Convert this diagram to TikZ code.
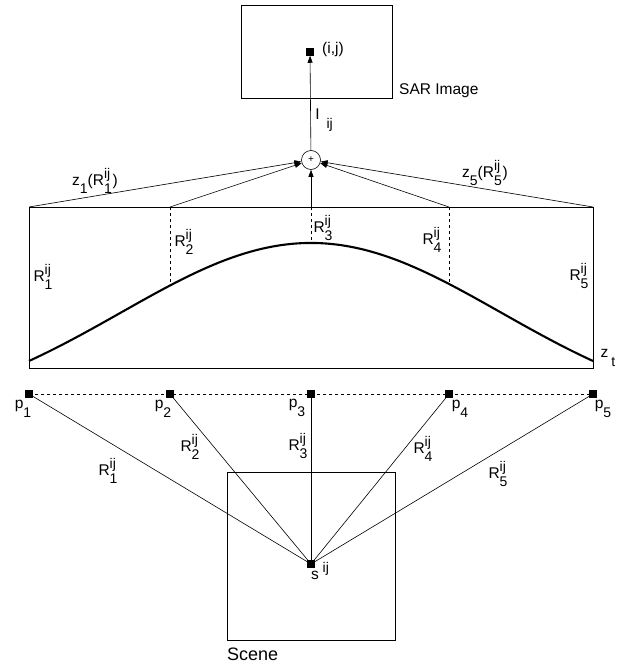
\documentclass[tikz,border=0pt]{standalone}
\usepackage{fontspec}
\setmainfont{Liberation Sans}
\usetikzlibrary{arrows.meta}
\newcommand{\lo}[1]{\raisebox{-0.55em}{\fontsize{14}{14}\selectfont #1}}
\newcommand{\hi}[1]{\raisebox{0.45em}{\fontsize{14}{14}\selectfont #1}}
\newcommand{\Rlab}[1]{R\rlap{\hi{ij}}\lo{#1}}
\begin{document}
\begin{tikzpicture}[x=1pt,y=-1pt,
  sq/.style={fill=black,draw=none,minimum size=7.5,inner sep=0,outer sep=0},
  lab/.style={inner sep=0,font=\fontsize{15.5}{15.5}\selectfont},
  arr/.style={-{Triangle[length=7pt,width=5pt]}},
  thin line/.style={line width=0.6pt},
  frame/.style={draw,line width=0.6pt,inner sep=0,outer sep=0}]
\useasboundingbox (0,0) rectangle (628,669);
% boxes
\node[frame,minimum width=151,minimum height=93] (sar) at (316.5,51.5) {};
\node[frame,minimum width=564,minimum height=161] (prof) at (311,287.5) {};
\node[frame,minimum width=168,minimum height=168] (scene) at (311,556) {};
% points
\node[sq] (ij) at (310,52) {};
\node[draw,circle,line width=0.6pt,minimum size=19,inner sep=0] (sum) at (311,160) {\fontsize{10}{10}\selectfont +};
\coordinate (b1) at (29,207);
\coordinate (b2) at (170,207);
\coordinate (b3) at (311,207);
\coordinate (b4) at (449,207);
\coordinate (b5) at (593,207);
\coordinate (c2) at (170,285.5);
\coordinate (c3) at (311,243);
\coordinate (c4) at (449,284);
\node[sq] (p1) at (29,394) {};
\node[sq] (p2) at (170,394) {};
\node[sq] (p3) at (311,394) {};
\node[sq] (p4) at (449,394) {};
\node[sq] (p5) at (593,394) {};
\node[sq] (s) at (311,564) {};
% connectors to sum
\draw[thin line,arr] (b1) -- (sum);
\draw[thin line,arr] (b2) -- (sum);
\draw[thin line,arr] (b3) -- (sum);
\draw[thin line,arr] (b4) -- (sum);
\draw[thin line,arr] (b5) -- (sum);
\draw[thin line,arr] (sum) -- (ij);
% dashed verticals
\draw[thin line,dashed] (b2) -- (c2);
\draw[thin line,dashed] (b3) -- (c3);
\draw[thin line,dashed] (b4) -- (c4);
% curve
\draw[line width=2.1pt] plot[domain=29:593,samples=120,smooth]
  (\x,{361-118*(exp(-((\x-311)/100)^2/7.22)-0.3324)/0.6676});
% bottom
\draw[thin line,dashed] (p1.center) -- (p5.center);
\foreach \p in {p1,p2,p3,p4,p5} \draw[thin line] (\p.center) -- (s.center);
% labels
\node[lab] (lij) at (333,49) {(i,j)};
\node[lab,anchor=west] (lsar) at (399,91) {SAR Image};
\node[lab] (lI) at (324,120) {I\hspace{0.45em}\lo{ij}};
\node[lab] (lz1) at (95,181) {z\lo{1}(\Rlab{1}\hspace{0.05em})};
\node[lab] (lz5) at (485,173) {z\lo{5}(\Rlab{5}\hspace{0.05em})};
\node[lab] (lr1) at (43,277) {\Rlab{1}};
\node[lab] (lr2) at (184,242) {\Rlab{2}};
\node[lab] (lr3) at (323,228) {\Rlab{3}};
\node[lab] (lr4) at (432,240) {\Rlab{4}};
\node[lab] (lr5) at (579,276) {\Rlab{5}};
\node[lab] (lzt) at (608,358) {z\hspace{0.2em}\lo{t}};
\node[lab] (lp1) at (23,409) {p\lo{1}};
\node[lab] (lp2) at (163,409) {p\lo{2}};
\node[lab] (lp3) at (297,408) {p\lo{3}};
\node[lab] (lp4) at (460,409) {p\lo{4}};
\node[lab] (lp5) at (603,409) {p\lo{5}};
\node[lab] (lR1) at (108,471) {\Rlab{1}};
\node[lab] (lR2) at (190,447) {\Rlab{2}};
\node[lab] (lR3) at (298,446) {\Rlab{3}};
\node[lab] (lR4) at (423,449) {\Rlab{4}};
\node[lab] (lR5) at (498,474) {\Rlab{5}};
\node[lab] (ls) at (320,571) {s\hspace{0.25em}\hi{ij}};
\node[lab,anchor=west,font=\fontsize{18}{18}\selectfont] (lscene) at (227,654) {Scene};
\end{tikzpicture}
\end{document}
